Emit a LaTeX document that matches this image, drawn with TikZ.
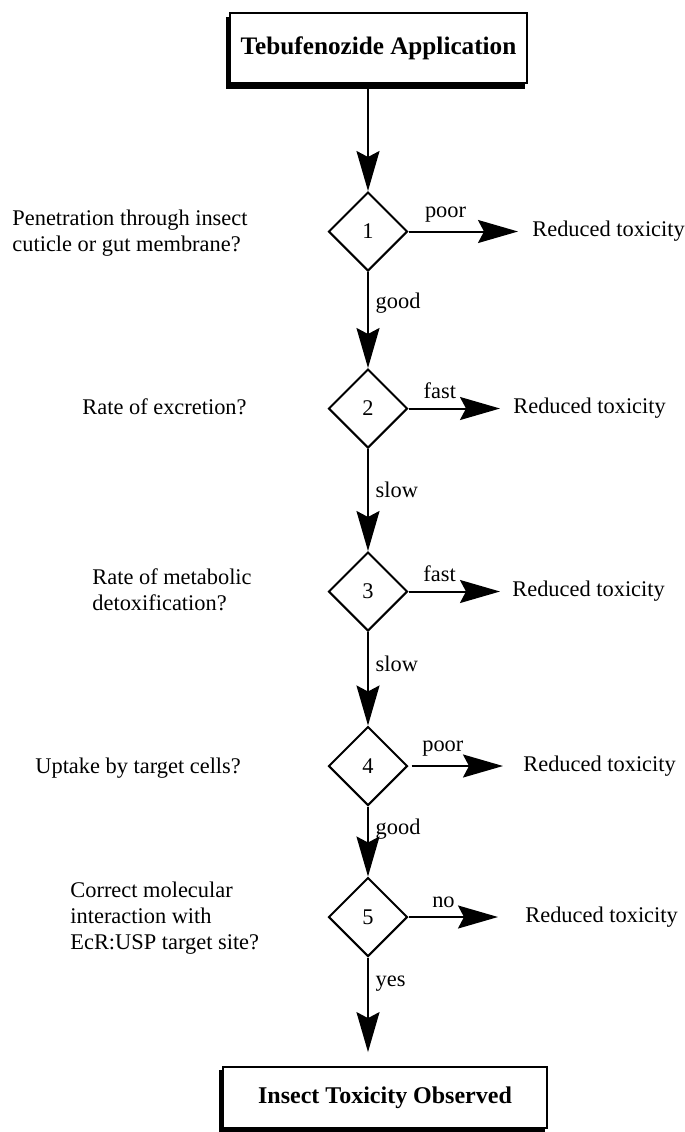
\documentclass[tikz,border=0pt]{standalone}
\usepackage{fontspec}
\setmainfont{Liberation Serif}
\usetikzlibrary{shapes.geometric, arrows.meta, positioning, backgrounds}

\begin{document}
\begin{tikzpicture}[
    x=0.5pt, y=-0.5pt,
    font=\fontsize{11.2}{13}\selectfont,
    terminal/.style={rectangle, draw, line width=0.9pt, fill=white, font=\fontsize{12.6}{15}\selectfont\bfseries},
    decision/.style={diamond, draw, line width=1pt, aspect=1, minimum size=39.5pt, inner sep=0pt},
    question/.style={anchor=west, align=left, inner sep=0pt},
    outcome/.style={anchor=west, inner sep=0pt},
    arrow/.style={-{Stealth[length=20pt, width=11.5pt, inset=3pt]}, line width=1pt}
]
    \useasboundingbox (0,0) rectangle (685,1132);
    \node [terminal, minimum width=148.5pt, minimum height=35pt] (start) at (378.5,48) {Tebufenozide Application};
    \node [decision] (d1) at (368,231.5) {1};
    \node [decision] (d2) at (368,408.5) {2};
    \node [decision] (d3) at (368,591.5) {3};
    \node [decision] (d4) at (368,766) {4};
    \node [decision] (d5) at (368,917) {5};
    \node [terminal, font=\fontsize{12}{14}\selectfont\bfseries, minimum width=162pt, minimum height=30.5pt] (finish) at (385,1097.5) {Insect Toxicity Observed};
    % shadows of the two boxes
    \begin{scope}[on background layer]
        \fill ([xshift=-1.6pt, yshift=-2.4pt]start.south west) rectangle ([xshift=-1.6pt, yshift=-2.4pt]start.north east);
        \fill ([xshift=-1.6pt, yshift=-2pt]finish.south west) rectangle ([xshift=-1.6pt, yshift=-2pt]finish.north east);
    \end{scope}
    \node [question] (q1) at (12,233) {Penetration through insect\\cuticle or gut membrane?};
    \node [question] (q2) at (82,407) {Rate of excretion?};
    \node [question] (q3) at (92,590) {Rate of metabolic\\detoxification?};
    \node [question] (q4) at (35,768) {Uptake by target cells?};
    \node [question] (q5) at (70,918) {Correct molecular\\interaction with\\EcR:USP target site?};
    \node [outcome] (r1) at (532,231.5) {Reduced toxicity};
    \node [outcome] (r2) at (513,408.5) {Reduced toxicity};
    \node [outcome] (r3) at (512,591.5) {Reduced toxicity};
    \node [outcome] (r4) at (523,766) {Reduced toxicity};
    \node [outcome] (r5) at (525,917) {Reduced toxicity};
    % main line
    \draw [arrow] (start.south -| d1) -- (d1);
    \draw [arrow] (d1) -- node[right, pos=0.32] {good} (d2);
    \draw [arrow] (d2) -- node[right, pos=0.4] {slow} (d3);
    \draw [arrow] (d3) -- node[right, pos=0.34] {slow} (d4);
    \draw [arrow] (d4) -- node[right, pos=0.32] {good} (d5);
    \draw [arrow, shorten >=7pt] (d5) -- node[right, pos=0.24] {yes} (finish.north -| d5);
    % side exits
    \draw [arrow, shorten >=7pt] (d1) -- node[above=1pt, pos=0.3] {poor} (r1);
    \draw [arrow, shorten >=6.5pt] (d2) -- node[above=1pt, pos=0.3] {fast} (r2);
    \draw [arrow, shorten >=6pt] (d3) -- node[above=1pt, pos=0.3] {fast} (r3);
    \draw [arrow, shorten <=1.5pt, shorten >=10pt] (d4) -- node[above=1pt, pos=0.3] {poor} (r4);
    \draw [arrow, shorten >=13.5pt] (d5) -- node[above=1pt, pos=0.3] {no} (r5);
\end{tikzpicture}
\end{document}
